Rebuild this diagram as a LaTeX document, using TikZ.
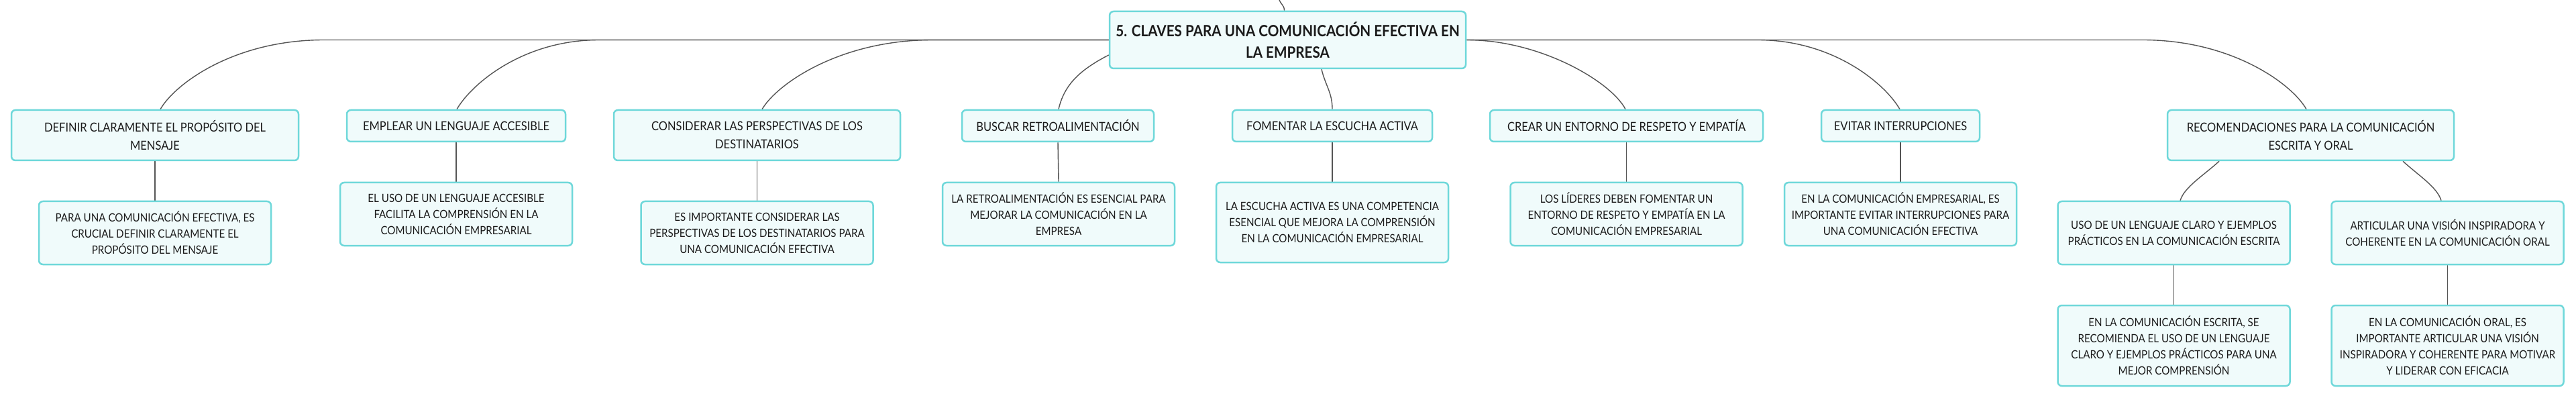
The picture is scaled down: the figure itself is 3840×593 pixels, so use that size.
\documentclass[tikz,border=0pt]{standalone}
\usepackage{fontspec}
\setmainfont{Lato}[FakeStretch=0.89]
\usetikzlibrary{backgrounds}
\definecolor{boxborder}{HTML}{6FD8DA}
\definecolor{boxfill}{HTML}{F0FBFB}
\definecolor{conncol}{HTML}{555555}
\definecolor{txt}{HTML}{1A1A1A}
\tikzset{
  basebox/.style={draw=boxborder, fill=boxfill, line width=2.5pt, rounded corners=6pt,
    inner sep=0pt, align=center, text=txt},
  rootbox/.style={basebox, minimum width=531pt, minimum height=85pt,
    font=\fontsize{23.2}{32}\selectfont\bfseries},
  topic/.style={basebox, minimum height=#1, font=\fontsize{18.5}{27}\selectfont},
  detail/.style={basebox, minimum width=346pt, minimum height=#1, font=\fontsize{17}{24}\selectfont},
  conn/.style={draw=conncol, line width=1.4pt},
}
\begin{document}
\begin{tikzpicture}[x=1pt, y=-1pt]
\useasboundingbox (0,0) rectangle (3840,593);
% root
\node[rootbox] (root) at (1919.5,59.5) {5. CLAVES PARA UNA COMUNICACIÓN EFECTIVA EN\\LA EMPRESA};
\coordinate (upend) at (1907,0);
% level 1
\node[topic=75pt, minimum width=428pt] (b1) at (231,201.5) {DEFINIR CLARAMENTE EL PROPÓSITO DEL\\MENSAJE};
\node[topic=47pt, minimum width=326pt] (b2) at (680,187.5) {EMPLEAR UN LENGUAJE ACCESIBLE};
\node[topic=75pt, minimum width=427pt] (b3) at (1128.5,201.5) {CONSIDERAR LAS PERSPECTIVAS DE LOS\\DESTINATARIOS};
\node[topic=47pt, minimum width=286pt] (b4) at (1577,187.5) {BUSCAR RETROALIMENTACIÓN};
\node[topic=47pt, minimum width=298pt] (b5) at (1986,187.5) {FOMENTAR LA ESCUCHA ACTIVA};
\node[topic=47pt, minimum width=407pt] (b6) at (2424.5,187.5) {CREAR UN ENTORNO DE RESPETO Y EMPATÍA};
\node[topic=47pt, minimum width=236pt] (b7) at (2833,187.5) {EVITAR INTERRUPCIONES};
\node[topic=75pt, minimum width=427pt] (b8) at (3444.5,201.5) {RECOMENDACIONES PARA LA COMUNICACIÓN\\ESCRITA Y ORAL};
% level 2
\node[detail=94pt] (c1) at (231,347) {PARA UNA COMUNICACIÓN EFECTIVA, ES\\CRUCIAL DEFINIR CLARAMENTE EL\\PROPÓSITO DEL MENSAJE};
\node[detail=94pt] (c2) at (680,319) {EL USO DE UN LENGUAJE ACCESIBLE\\FACILITA LA COMPRENSIÓN EN LA\\COMUNICACIÓN EMPRESARIAL};
\node[detail=94pt] (c3) at (1128.5,347) {ES IMPORTANTE CONSIDERAR LAS\\PERSPECTIVAS DE LOS DESTINATARIOS PARA\\UNA COMUNICACIÓN EFECTIVA};
\node[detail=94pt] (c4) at (1578,319) {LA RETROALIMENTACIÓN ES ESENCIAL PARA\\MEJORAR LA COMUNICACIÓN EN LA\\EMPRESA};
\node[detail=119pt] (c5) at (1986,331.5) {LA ESCUCHA ACTIVA ES UNA COMPETENCIA\\ESENCIAL QUE MEJORA LA COMPRENSIÓN\\EN LA COMUNICACIÓN EMPRESARIAL};
\node[detail=94pt] (c6) at (2424.5,319) {LOS LÍDERES DEBEN FOMENTAR UN\\ENTORNO DE RESPETO Y EMPATÍA EN LA\\COMUNICACIÓN EMPRESARIAL};
\node[detail=94pt] (c7) at (2833,319) {EN LA COMUNICACIÓN EMPRESARIAL, ES\\IMPORTANTE EVITAR INTERRUPCIONES PARA\\UNA COMUNICACIÓN EFECTIVA};
\node[detail=94pt] (c8a) at (3240.5,347) {USO DE UN LENGUAJE CLARO Y EJEMPLOS\\PRÁCTICOS EN LA COMUNICACIÓN ESCRITA};
\node[detail=94pt] (c8b) at (3648.5,347) {ARTICULAR UNA VISIÓN INSPIRADORA Y\\COHERENTE EN LA COMUNICACIÓN ORAL};
% level 3
\node[detail=120pt] (g8a) at (3240.5,515) {EN LA COMUNICACIÓN ESCRITA, SE\\RECOMIENDA EL USO DE UN LENGUAJE\\CLARO Y EJEMPLOS PRÁCTICOS PARA UNA\\MEJOR COMPRENSIÓN};
\node[detail=120pt] (g8b) at (3648.5,515) {EN LA COMUNICACIÓN ORAL, ES\\IMPORTANTE ARTICULAR UNA VISIÓN\\INSPIRADORA Y COHERENTE PARA MOTIVAR\\Y LIDERAR CON EFICACIA};
% connectors (behind boxes)
\begin{scope}[on background layer]
\fill[white] (0,0) rectangle (3840,593);
\draw[conn] ([xshift=-5pt]root.north) .. controls +(0,-8) and +(2,6) .. (upend);
\draw[conn] (root.west) -- ([xshift=252pt]b1.north |- root.west)
  .. controls ([xshift=118pt]b1.north |- root.west) and ([xshift=30pt,yshift=38pt]b1.north) .. ([xshift=8pt]b1.north);
\draw[conn] (root.west) -- ([xshift=213pt]b2.north |- root.west)
  .. controls ([xshift=100pt]b2.north |- root.west) and ([xshift=23pt,yshift=38pt]b2.north) .. ([xshift=1pt]b2.north);
\draw[conn] (root.west) -- ([xshift=261.5pt]b3.north |- root.west)
  .. controls ([xshift=124pt]b3.north |- root.west) and ([xshift=30pt,yshift=38pt]b3.north) .. ([xshift=7.5pt]b3.north);
\draw[conn] ([yshift=-22.5pt]root.west) .. controls +(-45,23) and +(8,-35) .. ([xshift=1pt]b4.north);
\draw[conn] ([xshift=50.5pt]root.south) .. controls +(6,25) and +(0,-25) .. (b5.north);
\draw[conn] (root.east) .. controls ([xshift=-127pt]b6.north |- root.east) and ([xshift=-22pt,yshift=40pt]b6.north) .. ([xshift=-1.5pt]b6.north);
\draw[conn] (root.east) -- ([xshift=-213pt]b7.north |- root.east)
  .. controls ([xshift=-100pt]b7.north |- root.east) and ([xshift=-23pt,yshift=38pt]b7.north) .. ([xshift=-1pt]b7.north);
\draw[conn] (root.east) -- ([xshift=-250.5pt]b8.north |- root.east)
  .. controls ([xshift=-118pt]b8.north |- root.east) and ([xshift=-28pt,yshift=38pt]b8.north) .. ([xshift=-6.5pt]b8.north);
\foreach \p/\c in {b1/c1,b2/c2,b3/c3,b4/c4,b5/c5,b6/c6,b7/c7,c8a/g8a,c8b/g8b}
  \draw[conn] (\p.south) -- (\c.north);
\draw[conn] ([xshift=-136.5pt]b8.south) .. controls +(-23,21) and +(6,-20) .. ([xshift=9.5pt]c8a.north);
\draw[conn] ([xshift=137.5pt]b8.south) .. controls +(23,21) and +(-6,-20) .. ([xshift=-9.5pt]c8b.north);
\end{scope}
\end{tikzpicture}
\end{document}
